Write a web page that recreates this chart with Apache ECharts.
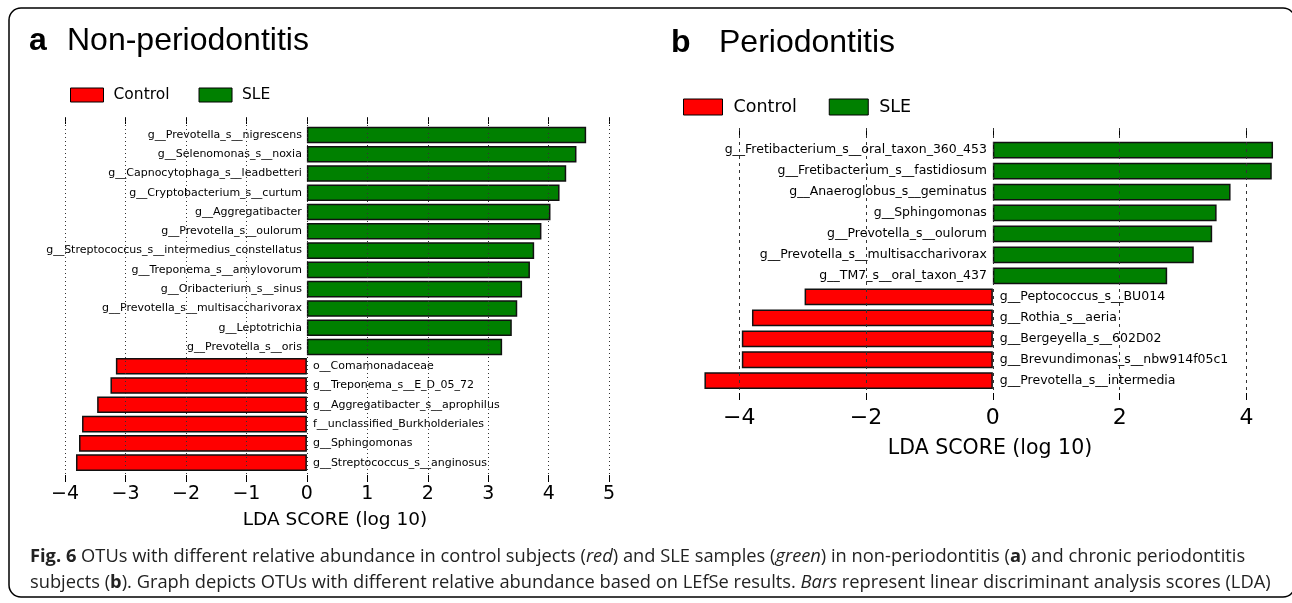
<!DOCTYPE html>
<html>
<head>
<meta charset="utf-8">
<script src="https://cdn.jsdelivr.net/npm/echarts@6/dist/echarts.min.js"></script>
<style>
  html, body { margin: 0; background: #fff; }
  #chart { width: 1292px; height: 603px; }
</style>
</head>
<body>
<div id="chart"></div>
<script>
// panel a - non-periodontitis
const leftOtus = [
  'g__Prevotella_s__nigrescens', 'g__Selenomonas_s__noxia', 'g__Capnocytophaga_s__leadbetteri',
  'g__Cryptobacterium_s__curtum', 'g__Aggregatibacter', 'g__Prevotella_s__oulorum',
  'g__Streptococcus_s__intermedius_constellatus', 'g__Treponema_s__amylovorum', 'g__Oribacterium_s__sinus',
  'g__Prevotella_s__multisaccharivorax', 'g__Leptotrichia', 'g__Prevotella_s__oris',
  'o__Comamonadaceae', 'g__Treponema_s__E_D_05_72', 'g__Aggregatibacter_s__aprophilus',
  'f__unclassified_Burkholderiales', 'g__Sphingomonas', 'g__Streptococcus_s__anginosus'
]
const leftScores = [4.62, 4.46, 4.29, 4.18, 4.03, 3.88, 3.76, 3.69, 3.56, 3.48, 3.39, 3.23,
  -3.16, -3.25, -3.47, -3.72, -3.77, -3.82]
const leftTicks = [-4, -3, -2, -1, 0, 1, 2, 3, 4, 5]

// panel b - periodontitis
const rightOtus = [
  'g__Fretibacterium_s__oral_taxon_360_453', 'g__Fretibacterium_s__fastidiosum', 'g__Anaeroglobus_s__geminatus',
  'g__Sphingomonas', 'g__Prevotella_s__oulorum', 'g__Prevotella_s__multisaccharivorax',
  'g__TM7_s__oral_taxon_437', 'g__Peptococcus_s__BU014', 'g__Rothia_s__aeria',
  'g__Bergeyella_s__602D02', 'g__Brevundimonas_s__nbw914f05c1', 'g__Prevotella_s__intermedia'
]
const rightScores = [4.42, 4.40, 3.75, 3.53, 3.46, 3.17, 2.75, -2.97, -3.80, -3.96, -3.96, -4.55]
const rightTicks = [-4, -2, 0, 2, 4]

const RED = '#ff0000'
const GREEN = '#008000'
const DJ = 'DejaVu Sans'

const posOnly = s => s.map(v => v > 0 ? v : '-')
const negOnly = s => s.map(v => v < 0 ? v : '-')
const minus = v => String(v).replace('-', '\u2212')

// background axes: ticks top+bottom, grid lines over the bars
function bgAxes(gridIndex, min, max, ticks, fs, nameFs, nameGap, margin, dash) {
  return [
    {
      type: 'value', gridIndex, min, max, position: 'bottom', z: 5,
      axisLine: { show: false },
      axisTick: { inside: true, length: 7, customValues: ticks, lineStyle: { color: '#000' } },
      axisLabel: { customValues: ticks, formatter: minus, fontSize: fs, margin, color: '#000', fontFamily: DJ },
      splitLine: { show: true, lineStyle: { type: dash, color: '#333', width: 1 } },
      name: 'LDA SCORE (log 10)', nameLocation: 'middle', nameGap,
      nameTextStyle: { fontSize: nameFs, color: '#000', fontFamily: DJ }
    },
    {
      type: 'value', gridIndex, min, max, position: 'top',
      axisLine: { show: false },
      axisTick: { inside: true, length: 7, customValues: ticks, lineStyle: { color: '#000' } },
      axisLabel: { show: false },
      splitLine: { show: false }
    }
  ]
}

function barSeries(name, data, xi, yi, stack, color, pos, dist, fs, gap) {
  return {
    name, type: 'bar', stack, data, xAxisIndex: xi, yAxisIndex: yi,
    barCategoryGap: gap,
    itemStyle: { color, borderColor: '#111', borderWidth: 1.5 },
    label: {
      show: true, position: pos, distance: dist, formatter: p => p.name,
      fontSize: fs, color: '#000', fontFamily: DJ
    }
  }
}

const titleFont = { fontSize: 32, color: '#000', fontFamily: 'Liberation Sans', fontWeight: 'normal' }

const option = {
  animation: false,
  backgroundColor: '#fff',
  title: [
    { text: 'a', left: 29, top: 25, padding: 0, textStyle: { ...titleFont, fontWeight: 'bold' } },
    { text: 'Non-periodontitis', left: 67, top: 25, padding: 0, textStyle: titleFont },
    { text: 'b', left: 671, top: 27, padding: 0, textStyle: { ...titleFont, fontWeight: 'bold' } },
    { text: 'Periodontitis', left: 719, top: 27, padding: 0, textStyle: titleFont }
  ],
  legend: [
    {
      left: 70, top: 87, padding: 0, icon: 'rect', itemWidth: 33, itemHeight: 14, itemGap: 29,
      data: ['Control', 'SLE'],
      itemStyle: { borderColor: '#000', borderWidth: 1 },
      textStyle: { fontSize: 15.5, color: '#000', fontFamily: DJ, padding: [0, 0, 0, 5] }
    },
    {
      left: 683, top: 98, padding: 0, icon: 'rect', itemWidth: 39, itemHeight: 16, itemGap: 32,
      data: ['Control', 'SLE'],
      itemStyle: { borderColor: '#000', borderWidth: 1 },
      textStyle: { fontSize: 17.5, color: '#000', fontFamily: DJ, padding: [0, 0, 0, 6] }
    }
  ],
  grid: [
    { left: 50, top: 117, width: 570, height: 365 },
    { left: 50, top: 125.3, width: 570, height: 347 },
    { left: 700, top: 128, width: 580, height: 272 },
    { left: 700, top: 139.6, width: 580, height: 251.6 }
  ],
  xAxis: [
    ...bgAxes(0, -4.25, 5.18, leftTicks, 19, 18.5, 29, 3, [1, 3]),
    { type: 'value', gridIndex: 1, min: -4.25, max: 5.18, show: false },
    ...bgAxes(2, -4.62, 4.53, rightTicks, 22, 20.5, 38, 7, [3, 4]),
    { type: 'value', gridIndex: 3, min: -4.62, max: 4.53, show: false }
  ],
  yAxis: [
    { type: 'value', gridIndex: 0, min: 0, max: 1, show: false },
    { type: 'category', gridIndex: 1, inverse: true, data: leftOtus, show: false },
    { type: 'value', gridIndex: 2, min: 0, max: 1, show: false },
    { type: 'category', gridIndex: 3, inverse: true, data: rightOtus, show: false }
  ],
  series: [
    barSeries('SLE', posOnly(leftScores), 2, 1, 'a', GREEN, 'left', 5, 11, '14%'),
    barSeries('Control', negOnly(leftScores), 2, 1, 'a', RED, 'right', 6, 11, '14%'),
    barSeries('SLE', posOnly(rightScores), 5, 3, 'b', GREEN, 'left', 6, 12.5, '20%'),
    barSeries('Control', negOnly(rightScores), 5, 3, 'b', RED, 'right', 7, 12.5, '20%')
  ],
  graphic: [
    {
      type: 'rect', silent: true, z: 0,
      shape: { x: 9, y: 8, width: 1286, height: 589, r: 12 },
      style: { fill: 'none', stroke: '#000', lineWidth: 1.5 }
    },
    {
      type: 'text', left: 30, top: 544,
      style: {
        text: '{b|Fig. 6} OTUs with different relative abundance in control subjects ({i|red}) and SLE samples ({i|green}) in non-periodontitis ({b|a}) and chronic periodontitis\n' +
              'subjects ({b|b}). Graph depicts OTUs with different relative abundance based on LEfSe results. {i|Bars} represent linear discriminant analysis scores (LDA)',
        font: '18.3px "Open Sans"', fill: '#222', lineHeight: 26,
        rich: {
          b: { fontWeight: 'bold', fontSize: 18.3, fontFamily: 'Open Sans', lineHeight: 26 },
          i: { fontStyle: 'italic', fontSize: 18.3, fontFamily: 'Open Sans', lineHeight: 26 }
        }
      }
    }
  ]
}

const chart = echarts.init(document.getElementById('chart'))
chart.setOption(option)
</script>
</body>
</html>
